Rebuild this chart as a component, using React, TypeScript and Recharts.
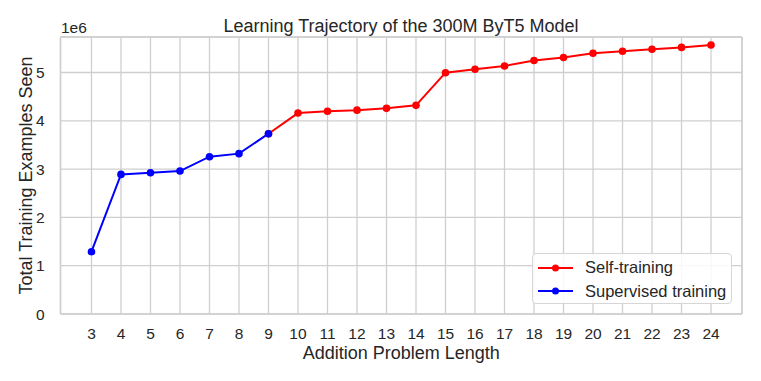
import {
  LineChart,
  Line,
  CartesianGrid,
  XAxis,
  YAxis,
  ReferenceLine,
} from "recharts";

// problem length on x, cumulative training examples on y
const lengths = [3, 4, 5, 6, 7, 8, 9, 10, 11, 12, 13, 14, 15, 16, 17, 18, 19, 20, 21, 22, 23, 24];
const supervised = [1.29e6, 2.89e6, 2.925e6, 2.96e6, 3.257e6, 3.32e6, 3.733e6];
// self-training picks up where supervised stops (length 9)
const selfTraining = [
  3.733e6, 4.16e6, 4.197e6, 4.22e6, 4.258e6, 4.32e6, 4.996e6, 5.066e6, 5.135e6, 5.25e6, 5.31e6, 5.4e6,
  5.44e6, 5.48e6, 5.52e6, 5.57e6,
];
const yTicks = [0, 1e6, 2e6, 3e6, 4e6, 5e6];

const X_MIN = 1.95;
const X_MAX = 25.05;
const Y_MAX = 5.735e6;

const data = lengths.map((len, i) => ({
  len,
  sup: i < supervised.length ? supervised[i] : null,
  self: i >= supervised.length - 1 ? selfTraining[i - supervised.length + 1] : null,
}));

const FONT = "'Liberation Sans', Arial, sans-serif";
const GRID = "#cfcfcf";
const TEXT = "#262626";

const legendItems = [
  { label: "Self-training", color: "#ff0000" },
  { label: "Supervised training", color: "#0000ff" },
];

function ChartLegend() {
  return (
    <div
      style={{
        position: "absolute",
        left: 532,
        top: 253,
        width: 200,
        height: 51,
        boxSizing: "border-box",
        border: "1px solid #d6d6d6",
        borderRadius: 4,
        background: "rgba(255,255,255,0.85)",
        padding: "2px 0 2px 5px",
        fontFamily: FONT,
        fontSize: 16.5,
        color: TEXT,
      }}
    >
      {legendItems.map((it) => (
        <div key={it.label} style={{ display: "flex", alignItems: "center", height: 23.5 }}>
          <svg width={36} height={10} style={{ marginRight: 11 }}>
            <line x1={0} y1={5} x2={35} y2={5} stroke={it.color} strokeWidth={2} />
            <circle cx={17.5} cy={5} r={3.5} fill={it.color} />
          </svg>
          <span>{it.label}</span>
        </div>
      ))}
    </div>
  );
}

export default function App() {
  return (
    <div style={{ position: "absolute", left: 0, top: 0, width: 761, height: 381, background: "#fff" }}>
      <LineChart width={761} height={381} data={data} margin={{ top: 37, right: 19, left: 0, bottom: 0 }}>
        <CartesianGrid stroke={GRID} strokeWidth={1.3} />
        <XAxis
          dataKey="len"
          type="number"
          domain={[X_MIN, X_MAX]}
          ticks={lengths}
          interval={0}
          allowDataOverflow
          tickLine={false}
          axisLine={false}
          height={67}
          tickMargin={8}
          tick={{ fontSize: 15.5, fill: TEXT, fontFamily: FONT }}
          label={{
            value: "Addition Problem Length",
            position: "insideBottom",
            offset: 22,
            style: { fontSize: 18, fill: TEXT, fontFamily: FONT },
          }}
        />
        <YAxis
          type="number"
          domain={[0, Y_MAX]}
          ticks={yTicks}
          allowDataOverflow
          tickLine={false}
          axisLine={false}
          width={60.5}
          tickMargin={10}
          tickFormatter={(v: number) => String(v / 1e6)}
          tick={{ fontSize: 15.5, fill: TEXT, fontFamily: FONT }}
          label={{
            value: "Total Training Examples Seen",
            angle: -90,
            position: "insideLeft",
            offset: 26,
            style: { textAnchor: "middle", fontSize: 18, fill: TEXT, fontFamily: FONT },
          }}
        />
        <ReferenceLine x={X_MIN} stroke={GRID} strokeWidth={1.5} />
        <ReferenceLine x={X_MAX} stroke={GRID} strokeWidth={1.5} />
        <ReferenceLine y={0} stroke={GRID} strokeWidth={1.5} />
        <ReferenceLine y={Y_MAX} stroke={GRID} strokeWidth={1.5} />
        <Line
          dataKey="self"
          stroke="#ff0000"
          strokeWidth={2}
          dot={{ r: 3.8, fill: "#ff0000", stroke: "none" }}
          activeDot={false}
          connectNulls={false}
          isAnimationActive={false}
        />
        <Line
          dataKey="sup"
          stroke="#0000ff"
          strokeWidth={2}
          dot={{ r: 3.8, fill: "#0000ff", stroke: "none" }}
          activeDot={false}
          connectNulls={false}
          isAnimationActive={false}
        />
        <text x={401} y={32} textAnchor="middle" fontSize={18} fill={TEXT} fontFamily={FONT}>
          Learning Trajectory of the 300M ByT5 Model
        </text>
        <text x={61} y={33} fontSize={15.5} fill={TEXT} fontFamily={FONT}>
          1e6
        </text>
      </LineChart>
      <ChartLegend />
    </div>
  );
}
